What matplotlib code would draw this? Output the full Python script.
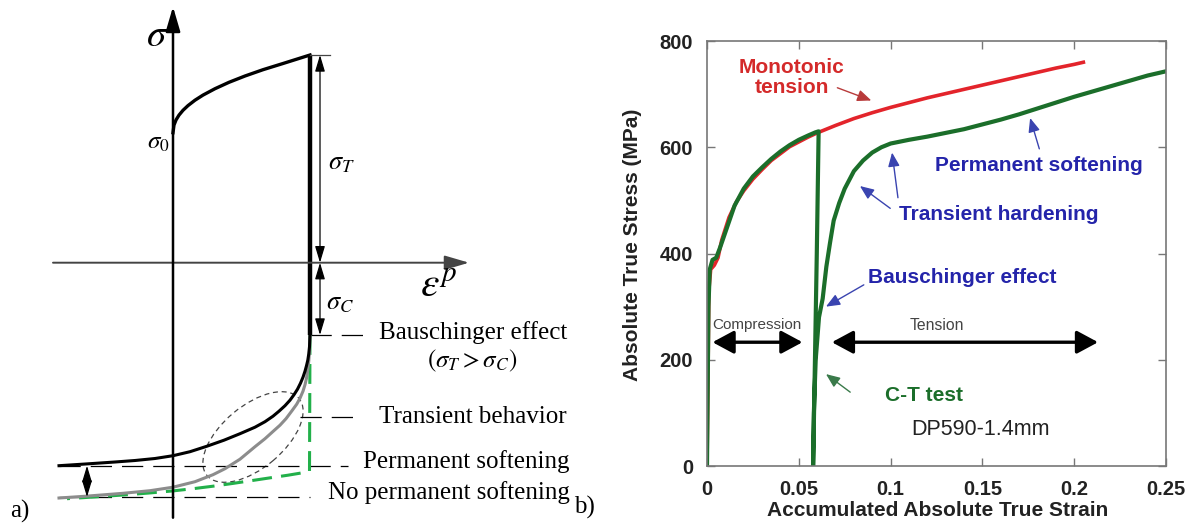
import matplotlib
matplotlib.use("Agg")
import matplotlib.pyplot as plt
from matplotlib.patches import Ellipse

plt.rcParams["mathtext.fontset"] = "stix"

# ---- schematic (a): arbitrary strain / stress units, origin at the axis cross ----
tension_eps = [0, 1, 3, 6, 10, 15, 22, 30, 42, 56, 72, 90, 110, 137]
tension_sig = [130, 137.6, 142.7, 147.6, 152.4, 157.1, 162.5, 167.6, 174, 180.4, 186.7, 193, 199.2, 207.7]

unload_eps = [137, 137]
unload_sig = [207.7, -72.3]

# reverse loading with permanent softening (black)
soft_eps = [137, 136.5, 135.8, 134.8, 133.5, 132, 130, 127.5, 124.5, 121, 117, 112, 106,
            100, 92, 82, 67, 51, 34, 17, 0, -18, -38, -58, -86, -114]
soft_sig = [-72.3, -84, -91, -97.5, -103, -108.5, -114.5, -120.5, -126.5, -132, -137.5, -143, -148.5,
            -153.5, -159, -164.5, -171, -177.5, -183.5, -189, -193, -195.8, -197.8, -199.3, -201.2, -203]

# reverse loading without permanent softening (grey)
nosoft_eps = [137, 136.5, 135.8, 134.8, 133.5, 132, 130, 127, 123.7, 119, 113, 107, 100.3,
              92, 82, 67, 52, 40, 22, 0, -23, -50, -87, -114]
nosoft_sig = [-72.3, -88, -98, -107, -115.5, -122, -128.5, -135.5, -141.5, -148, -156, -162.5, -168.5,
              -176, -184, -196.5, -206, -212, -219, -224.5, -228, -230.6, -233.5, -235.3]

# reverse loading, no Bauschinger effect (green dashed)
nobaus_eps = [137, 136.5, 130, 115, 100, 80, 60, 40, 20, 0, -25, -50, -78, -106]
nobaus_sig = [-72.3, -208.3, -210, -212.5, -214.7, -217.7, -220.7, -223.5, -226, -228.2, -230.4, -232.3, -234.2, -236]

# ---- DP590-1.4mm test data (b) ----
mono_strain = [0, 0.0005, 0.001, 0.002, 0.004, 0.006, 0.008, 0.012, 0.016, 0.02, 0.025, 0.03,
               0.035, 0.04, 0.045, 0.05, 0.055, 0.06, 0.065, 0.07, 0.08, 0.09, 0.1, 0.11, 0.12,
               0.13, 0.14, 0.15, 0.16, 0.17, 0.18, 0.19, 0.2, 0.205]
mono_stress = [0, 150, 330, 370, 378, 392, 425, 468, 497, 518, 540, 558,
               575, 588, 601, 610, 619, 627, 634, 641, 654, 665, 675, 684, 693,
               701, 709, 717, 725, 733, 741, 749, 756, 760]

ct_strain = [0, 0.0003, 0.0008, 0.0015, 0.003, 0.005, 0.007, 0.01, 0.015, 0.02, 0.025, 0.03,
             0.035, 0.04, 0.045, 0.05, 0.055, 0.059, 0.0608,
             0.0598, 0.0588, 0.0578,
             0.0582, 0.0592, 0.061, 0.063, 0.065, 0.067, 0.069, 0.072, 0.075, 0.08, 0.085,
             0.09, 0.095, 0.1, 0.11, 0.12, 0.13, 0.14, 0.15, 0.16, 0.17, 0.18, 0.19, 0.2,
             0.21, 0.22, 0.23, 0.24, 0.25]
ct_stress = [0, 120, 300, 370, 388, 392, 410, 440, 490, 522, 545, 562,
             578, 592, 604, 614, 622, 628, 630,
             400, 200, 0,
             100, 200, 280, 315, 375, 420, 462, 495, 522, 555, 575,
             590, 600, 607, 614, 620, 627, 634, 643, 652, 662, 673, 684, 695,
             705, 715, 725, 735, 743]

x_ticks = [0, 0.05, 0.1, 0.15, 0.2, 0.25]
x_tick_labels = ["0", "0.05", "0.1", "0.15", "0.2", "0.25"]
y_ticks = [0, 200, 400, 600, 800]

fig = plt.figure(figsize=(11.91, 5.26), dpi=100)

# ================= panel a =================
axl = fig.add_axes([0, 0, 600 / 1191, 1])
axl.set_xlim(-173, 427)
axl.set_ylim(-263.3, 262.7)
axl.axis("off")

serif = "Liberation Serif"

# coordinate axes
axl.annotate("", xy=(296, 0), xytext=(-120, 0),
             arrowprops=dict(arrowstyle="-|>,head_length=0.75,head_width=0.22", lw=1.4,
                             color="#444444", shrinkA=0, shrinkB=0, mutation_scale=20))
axl.annotate("", xy=(0, 256), xytext=(0, -255),
             arrowprops=dict(arrowstyle="-|>,head_length=0.75,head_width=0.22", lw=1.8,
                             color="black", shrinkA=0, shrinkB=0, mutation_scale=20))

# dashed leader lines
lead = dict(color="black", lw=0.9, dashes=(17, 8))
axl.plot([137, 196], [-72.3, -72.3], **lead)
axl.plot([127, 187], [-154, -154], **lead)
axl.plot([-114, 175], [-203, -203], **lead)
axl.plot([-114, 137], [-234.3, -234.3], **lead)

axl.add_patch(Ellipse((80, -174.3), 120, 62, angle=40, fill=False,
                      ec="#444444", lw=0.9, ls=(0, (4, 3))))

axl.plot(nobaus_eps, nobaus_sig, color="#22b04a", lw=2.2, dashes=(6.5, 3))
axl.plot(nosoft_eps, nosoft_sig, color="#8c8c8c", lw=2.2)
axl.plot(soft_eps, soft_sig, color="black", lw=2.2)
axl.plot(tension_eps, tension_sig, color="black", lw=2.4)
axl.plot(unload_eps, unload_sig, color="black", lw=3.2, solid_capstyle="butt")

# stress range markers
axl.plot([137, 157], [207.7, 207.7], color="#444444", lw=0.9)
dbl = dict(arrowstyle="<|-|>,head_length=0.5,head_width=0.15", lw=0.9, color="black",
           shrinkA=0, shrinkB=0, mutation_scale=20)
axl.annotate("", xy=(147, 207.7), xytext=(147, 0), arrowprops=dbl)
axl.annotate("", xy=(147, 0), xytext=(147, -72.3), arrowprops=dbl)
axl.annotate("", xy=(-86, -203), xytext=(-86, -234.3), arrowprops=dbl)

axl.text(-16, 228, r"$\sigma$", fontsize=28, ha="center", va="center")
axl.text(-15, 121, r"$\sigma_0$", fontsize=18, ha="center", va="center")
axl.text(155, 100, r"$\sigma_T$", fontsize=19, ha="left", va="center")
axl.text(153, -40, r"$\sigma_C$", fontsize=19, ha="left", va="center")
axl.text(247, -22, r"$\varepsilon^{p}$", fontsize=30, ha="left", va="center")

tfs = 18
axl.text(206, -70, "Bauschinger effect", family=serif, fontsize=tfs, va="center")
axl.text(299, -98, r"$(\sigma_T > \sigma_C)$", fontsize=tfs, ha="center", va="center")
axl.text(206, -154, "Transient behavior", family=serif, fontsize=tfs, va="center")
axl.text(190, -199, "Permanent softening", family=serif, fontsize=tfs, va="center")
axl.text(155, -230, "No permanent softening", family=serif, fontsize=tfs, va="center")
axl.text(-163, -249, "a)", family=serif, fontsize=tfs, va="center")
axl.text(401, -245, "b)", family=serif, fontsize=tfs, va="center")

# ================= panel b =================
sans = "Liberation Sans"
ax = fig.add_axes([707 / 1191, 60 / 526, 459 / 1191, 425 / 526])
red = "#e3242b"
green = "#1b6e2a"
blue = "#2424aa"

ax.plot(mono_strain, mono_stress, color=red, lw=2.6)
ax.plot(ct_strain, ct_stress, color=green, lw=3.0)

ax.set_xlim(0, 0.25)
ax.set_ylim(0, 800)
ax.set_xticks(x_ticks)
ax.set_xticklabels(x_tick_labels)
ax.set_yticks(y_ticks)
ax.tick_params(direction="in", top=True, right=True, length=6, width=1, color="#777777",
               labelsize=14.5, labelcolor="#222222", pad=10)
for lab in ax.get_xticklabels() + ax.get_yticklabels():
    lab.set_fontweight("bold")
    lab.set_family(sans)
for s in ax.spines.values():
    s.set_color("#777777")
    s.set_linewidth(1.2)

ax.set_xlabel("Accumulated Absolute True Strain", fontsize=15, weight="bold", family=sans,
              color="#222222")
ax.xaxis.set_label_coords(0.503, -0.083)
ax.set_ylabel("Absolute True Stress (MPa)", fontsize=15, weight="bold", family=sans,
              color="#222222")
ax.yaxis.set_label_coords(-0.142, 0.52)

lab_fs = 15
ax.text(0.046, 731, "Monotonic\ntension", color="#d42a2a", weight="bold", family=sans,
        fontsize=lab_fs, ha="center", va="center", linespacing=1.1)
ax.text(0.181, 565, "Permanent softening", color=blue, weight="bold", family=sans,
        fontsize=lab_fs, ha="center", va="center")
ax.text(0.159, 473, "Transient hardening", color=blue, weight="bold", family=sans,
        fontsize=lab_fs, ha="center", va="center")
ax.text(0.139, 354, "Bauschinger effect", color=blue, weight="bold", family=sans,
        fontsize=lab_fs, ha="center", va="center")
ax.text(0.118, 132, "C-T test", color=green, weight="bold", family=sans,
        fontsize=lab_fs, ha="center", va="center")
ax.text(0.149, 69, "DP590-1.4mm", color="#222222", family=sans,
        fontsize=15.5, ha="center", va="center")
ax.text(0.027, 266, "Compression", color="#444444", family=sans,
        fontsize=11, ha="center", va="center")
ax.text(0.125, 264, "Tension", color="#444444", family=sans,
        fontsize=11.3, ha="center", va="center")


def pointer(tail, head, color):
    ax.annotate("", xy=head, xytext=tail,
                arrowprops=dict(arrowstyle="-|>,head_length=0.6,head_width=0.25",
                                color=color, lw=1.0, shrinkA=0, shrinkB=0,
                                mutation_scale=14))


pointer((0.071, 712), (0.0895, 688), "#b83a3a")
pointer((0.181, 597), (0.176, 655), "#3a44b0")
pointer((0.0998, 485), (0.0833, 527), "#3a44b0")
pointer((0.104, 505), (0.1008, 590), "#3a44b0")
pointer((0.0854, 341), (0.0648, 300), "#3a44b0")
pointer((0.078, 139), (0.0648, 173), "#3a7a4a")

span = dict(arrowstyle="<|-|>,head_length=0.65,head_width=0.35", color="black", lw=2.4,
            shrinkA=0, shrinkB=0, mutation_scale=20)
ax.annotate("", xy=(0.003, 233), xytext=(0.052, 233), arrowprops=span)
ax.annotate("", xy=(0.068, 233), xytext=(0.213, 233), arrowprops=span)

fig.savefig("out.png", dpi=100)
